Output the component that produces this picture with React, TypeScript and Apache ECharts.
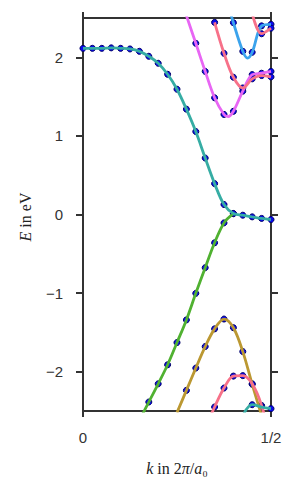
import React, { useEffect, useRef } from "react";
import * as echarts from "echarts";

// k grid of the sampled points (units of 2π/a0)
const kDots = [0, 0.025, 0.05, 0.075, 0.1, 0.125, 0.15, 0.175, 0.2, 0.225, 0.25, 0.275, 0.3, 0.325, 0.35, 0.375, 0.4, 0.425, 0.45, 0.475, 0.5];

// band energies (eV) at kDots, null = outside / not drawn
const bandTealUpper = [2.114, 2.114, 2.114, 2.12, 2.114, 2.106, 2.076, 2.013, 1.924, 1.784, 1.594, 1.34, 1.055, 0.718, 0.393, 0.127, 0.013, -0.009, -0.03, -0.05, -0.064];
const bandGreen = [null, null, null, null, null, null, -2.62, -2.386, -2.154, -1.912, -1.629, -1.341, -1.003, -0.677, -0.36, -0.107, 0.01, null, null, null, null];
const bandGold = [null, null, null, null, null, null, null, null, null, null, -2.52, -2.238, -1.954, -1.68, -1.455, -1.33, -1.44, -1.744, -2.16, -2.56, null];
const bandPinkLower = [null, null, null, null, null, null, null, null, null, null, null, null, null, -2.72, -2.449, -2.208, -2.056, -2.05, -2.154, -2.43, -2.9];
const bandTealLower = [null, null, null, null, null, null, null, null, null, null, null, null, null, null, null, null, null, -2.56, -2.42, -2.45, -2.47];
const bandMagenta = [null, null, null, null, null, null, null, null, null, null, null, 2.53, 2.178, 1.821, 1.485, 1.273, 1.313, 1.569, 1.78, 1.797, 1.82];
const bandPinkUpper = [null, null, null, null, null, null, null, null, null, null, null, null, null, null, 2.444, 2.051, 1.746, 1.61, 1.726, 1.768, 1.75];
const bandBlue = [null, null, null, null, null, null, null, null, null, null, null, null, null, null, null, 2.85, 2.44, 2.076, 2.064, 2.4, 2.42];
const bandPinkTop = [null, null, null, null, null, null, null, null, null, null, null, null, null, null, null, null, null, null, 2.56, 2.3, 2.37];

// extra points (line only)
const blueMinK = [0.4375];
const blueMinE = [1.99];
const magentaMinK = [0.386];
const magentaMinE = [1.245];

const yTicks = [-2, -1, 0, 1, 2];
const xTickLabels: Record<string, string> = { "0": "0", "0.5": "1/2" };

const C_PINK = "#f77189";
const C_GOLD = "#bb9832";
const C_GREEN = "#50b131";
const C_TEAL = "#36ada4";
const C_BLUE = "#3ba3ec";
const C_MAGENTA = "#e866f4";

function pairs(vals: (number | null)[], extraK: number[] = [], extraE: number[] = []) {
  const pts: [number, number][] = [];
  vals.forEach((v, i) => {
    if (v !== null) pts.push([kDots[i], v]);
  });
  extraK.forEach((k, i) => pts.push([k, extraE[i]]));
  pts.sort((a, b) => a[0] - b[0]);
  return pts;
}

const bands: { vals: (number | null)[]; color: string; ek?: number[]; ee?: number[] }[] = [
  { vals: bandGreen, color: C_GREEN },
  { vals: bandTealUpper, color: C_TEAL },
  { vals: bandGold, color: C_GOLD },
  { vals: bandPinkLower, color: C_PINK },
  { vals: bandTealLower, color: C_TEAL },
  { vals: bandMagenta, color: C_MAGENTA, ek: magentaMinK, ee: magentaMinE },
  { vals: bandPinkUpper, color: C_PINK },
  { vals: bandBlue, color: C_BLUE, ek: blueMinK, ee: blueMinE },
  { vals: bandPinkTop, color: C_PINK },
];

const AX = "#333333";

export default function App() {
  const ref = useRef<HTMLDivElement>(null);
  useEffect(() => {
    if (!ref.current) return;
    const chart = echarts.init(ref.current, null, { renderer: "svg" });
    const scatterSeries = bands.map((b) => ({
      type: "scatter",
      data: pairs(b.vals),
      symbol: "circle",
      symbolSize: 6,
      itemStyle: { color: "#0a0aef", borderColor: "#000066", borderWidth: 1, opacity: 1 },
      clip: true,
      z: 2,
    }));
    const lineSeries = bands.map((b) => ({
      type: "line",
      data: pairs(b.vals, b.ek, b.ee),
      smooth: 0.35,
      showSymbol: false,
      symbol: "none",
      lineStyle: { color: b.color, width: 2.8 },
      clip: true,
      z: 3,
    }));
    const tickStyle = { color: AX, width: 2 };
    const axLine = { show: true, onZero: false, lineStyle: { color: AX, width: 2 } };
    chart.setOption({
      animation: false,
      backgroundColor: "#ffffff",
      grid: { left: 83, right: 29, top: 18, bottom: 89, containLabel: false },
      xAxis: [
        {
          type: "value",
          position: "bottom",
          min: 0,
          max: 0.5,
          interval: 0.5,
          axisLine: axLine,
          axisTick: { show: true, inside: false, length: 6, lineStyle: tickStyle },
          splitLine: { show: false },
          axisLabel: {
            color: AX,
            fontSize: 15,
            fontFamily: "Liberation Sans, Arial, sans-serif",
            margin: 19,
            formatter: (v: number) => xTickLabels[String(v)] ?? "",
          },
        },
        {
          type: "value",
          position: "top",
          min: 0,
          max: 0.5,
          interval: 0.5,
          axisLine: axLine,
          axisTick: { show: true, inside: false, length: 6, lineStyle: tickStyle },
          splitLine: { show: false },
          axisLabel: { show: false },
        },
      ],
      yAxis: [
        {
          type: "value",
          position: "left",
          min: -2.5,
          max: 2.5,
          axisLine: axLine,
          axisTick: { show: true, inside: false, length: 7, lineStyle: tickStyle, customValues: yTicks },
          splitLine: { show: false },
          axisLabel: {
            color: AX,
            fontSize: 15,
            fontFamily: "Liberation Sans, Arial, sans-serif",
            margin: 20,
            customValues: yTicks,
            formatter: (v: number) => (v < 0 ? "\u2212" + Math.abs(v) : String(v)),
          },
        },
        {
          type: "value",
          position: "right",
          min: -2.5,
          max: 2.5,
          axisLine: axLine,
          axisTick: { show: true, inside: false, length: 7, lineStyle: tickStyle, customValues: yTicks },
          splitLine: { show: false },
          axisLabel: { show: false, customValues: yTicks },
        },
      ],
      series: [...scatterSeries, ...lineSeries],
      graphic: [
        {
          type: "text",
          x: 25,
          y: 217,
          rotation: Math.PI / 2,
          style: {
            text: "{i|E} in eV",
            fontSize: 16,
            fontFamily: "Liberation Serif, DejaVu Serif, serif",
            fill: "#222",
            align: "center",
            verticalAlign: "middle",
            rich: {
              i: { fontStyle: "italic", fontSize: 16, fontFamily: "Liberation Serif, DejaVu Serif, serif", fill: "#222" },
            },
          },
        },
        {
          type: "text",
          x: 177,
          y: 468,
          style: {
            text: "{i|k} in 2{i|\u03c0}/{i|a}\u2080",
            fontSize: 16,
            fontFamily: "Liberation Serif, DejaVu Serif, serif",
            fill: "#222",
            align: "center",
            verticalAlign: "middle",
            rich: {
              i: { fontStyle: "italic", fontSize: 16, fontFamily: "Liberation Serif, DejaVu Serif, serif", fill: "#222" },
            },
          },
        },
      ],
    });
    return () => chart.dispose();
  }, []);
  return (
    <div
      ref={ref}
      style={{ position: "absolute", left: 0, top: 0, width: 300, height: 500, background: "#fff" }}
    />
  );
}
